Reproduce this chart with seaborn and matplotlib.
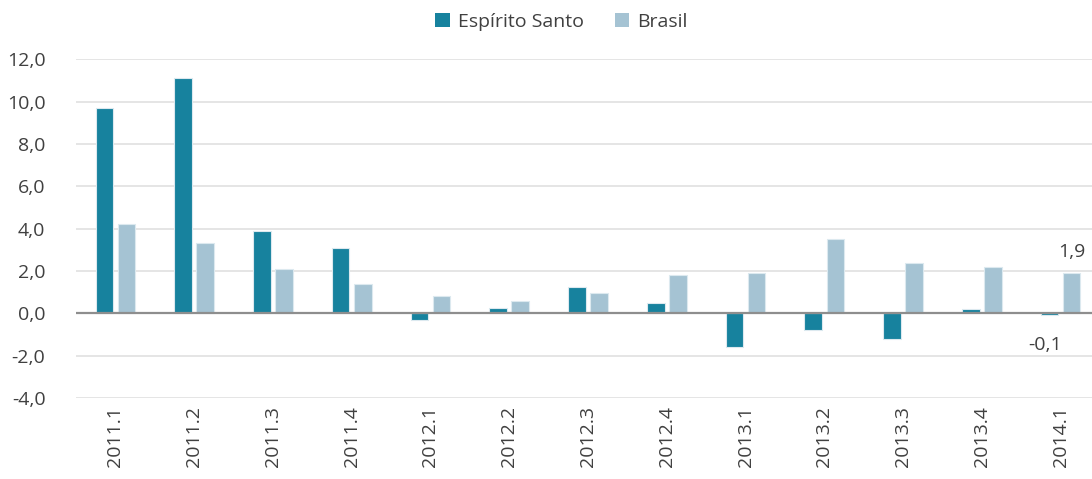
import matplotlib
matplotlib.use("Agg")
import matplotlib.pyplot as plt
import seaborn as sns
import pandas as pd
from matplotlib.ticker import FuncFormatter, MultipleLocator
from matplotlib.patches import Patch

periods = ["2011.1", "2011.2", "2011.3", "2011.4", "2012.1", "2012.2", "2012.3",
           "2012.4", "2013.1", "2013.2", "2013.3", "2013.4", "2014.1"]
espirito_santo = [9.7, 11.1, 3.9, 3.1, -0.3, 0.25, 1.25, 0.5, -1.6, -0.8, -1.2, 0.2, -0.1]
brasil = [4.2, 3.3, 2.1, 1.4, 0.8, 0.6, 0.95, 1.8, 1.9, 3.5, 2.4, 2.2, 1.9]
series_names = ["Espírito Santo", "Brasil"]
colors = ["#17829E", "#A5C3D3"]

df = pd.DataFrame({
    "period": periods * 2,
    "value": espirito_santo + brasil,
    "series": [series_names[0]] * len(periods) + [series_names[1]] * len(periods),
})

sns.set_style("white")
plt.rcParams["font.family"] = ["Open Sans", "DejaVu Sans"]
text_color = "#404040"

fig = plt.figure(figsize=(10.92, 4.79), dpi=100)
ax = fig.add_axes([76 / 1092, 1 - 398 / 479, 1024 / 1092, (398 - 59.3) / 479])

sns.barplot(data=df, x="period", y="value", hue="series", order=periods,
            hue_order=series_names, palette=colors, saturation=1, width=0.56, gap=0.2,
            edgecolor="#DCE9EF", linewidth=0.8, legend=False, ax=ax, errorbar=None)

ax.set_ylim(-4, 12)
ax.set_xlim(-0.5, len(periods) - 0.5)
ax.yaxis.set_major_locator(MultipleLocator(2))
ax.yaxis.set_major_formatter(FuncFormatter(lambda v, p: f"{v:.1f}".replace(".", ",")))
ax.grid(axis="y", color="#E3E3E3", linewidth=1.3)
ax.set_axisbelow(True)
ax.axhline(0, color="#8E8E8E", linewidth=1.6, zorder=3)
for s in ax.spines.values():
    s.set_visible(False)
ax.set_xlabel("")
ax.set_ylabel("")
ax.tick_params(axis="y", length=0, pad=22, labelsize=14, labelcolor=text_color)
ax.tick_params(axis="x", length=0, pad=6, labelsize=14, labelcolor=text_color, rotation=90)

# data labels for last period
last = len(periods) - 1
ax.text(last + 0.14, brasil[-1] + 0.55, f"{brasil[-1]:.1f}".replace(".", ","),
        ha="center", va="bottom", fontsize=14, color=text_color)
ax.text(last - 0.2, -1.05, f"{espirito_santo[-1]:.1f}".replace(".", ","),
        ha="center", va="top", fontsize=14, color=text_color)

handles = [Patch(facecolor=c, edgecolor="none") for c in colors]
fig.legend(handles, series_names, loc="center", bbox_to_anchor=(0.514, 0.955),
           ncol=2, frameon=False, fontsize=14, handlelength=0.75, handleheight=0.75,
           handletextpad=0.4, columnspacing=1.6, labelcolor=text_color)

fig.savefig("out.png", dpi=100)
